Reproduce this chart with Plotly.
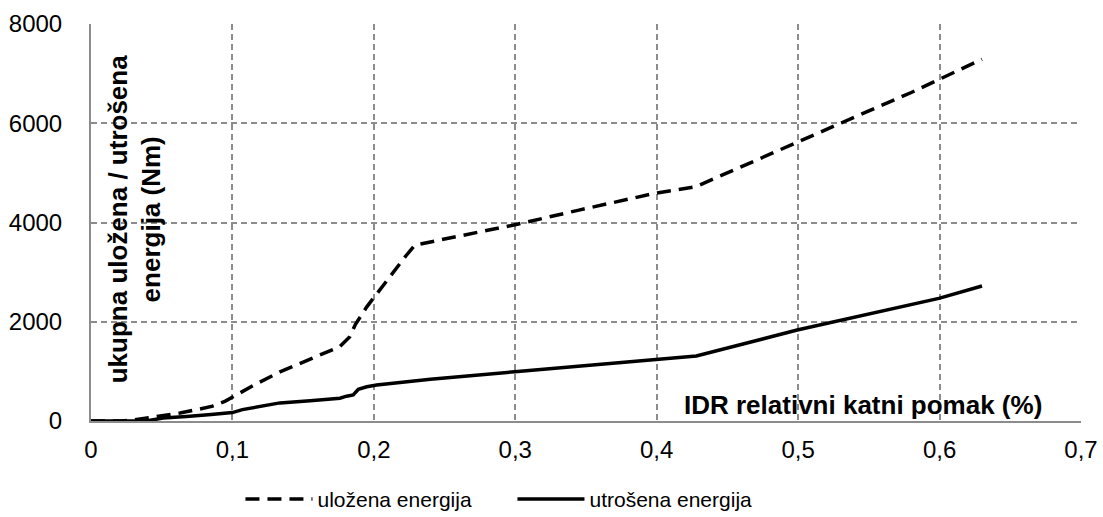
import plotly.graph_objects as go

# IDR (%) and energies (Nm)
x_ulozena = [0, 0.022, 0.03, 0.04, 0.05, 0.063, 0.075, 0.086, 0.095, 0.103, 0.115, 0.1336,
             0.155, 0.176, 0.183, 0.187, 0.195, 0.205, 0.223, 0.229, 0.26, 0.299, 0.345,
             0.399, 0.4275, 0.486, 0.53, 0.58, 0.63]
y_ulozena = [0, 0, 20, 60, 100, 160, 230, 300, 400, 530, 720, 990,
             1240, 1500, 1700, 1950, 2300, 2680, 3340, 3545, 3720, 3950, 4250,
             4590, 4720, 5460, 6000, 6620, 7290]

x_utrosena = [0, 0.022, 0.039, 0.051, 0.06, 0.0676, 0.085, 0.1, 0.107, 0.1265, 0.1336,
              0.155, 0.176, 0.1807, 0.1854, 0.189, 0.195, 0.202, 0.24, 0.2996, 0.3456,
              0.3998, 0.428, 0.4993, 0.5995, 0.63]
y_utrosena = [0, 0, 0, 60, 70, 90, 130, 170, 230, 340, 365,
              410, 460, 500, 524, 640, 690, 725, 840, 993, 1108,
              1229, 1309, 1833, 2471, 2720]

x_tickvals = [0, 0.1, 0.2, 0.3, 0.4, 0.5, 0.6, 0.7]
x_ticktext = ["0", "0,1", "0,2", "0,3", "0,4", "0,5", "0,6", "0,7"]
y_tickvals = [0, 2000, 4000, 6000, 8000]
y_ticktext = ["0", "2000", "4000", "6000", "8000"]

FONT = "Liberation Sans, Arial, sans-serif"
GRID = "#8c8c8c"

fig = go.Figure()
fig.add_trace(go.Scatter(x=x_ulozena, y=y_ulozena, mode="lines", name="uložena energija",
                         line=dict(color="black", width=3.5, dash="14px,8px")))
fig.add_trace(go.Scatter(x=x_utrosena, y=y_utrosena, mode="lines", name="utrošena energija",
                         line=dict(color="black", width=3.5)))

fig.update_layout(
    width=1103, height=517,
    margin=dict(l=91, r=22, t=24, b=96),
    paper_bgcolor="white", plot_bgcolor="white",
    font=dict(family=FONT, color="black", size=24),
    showlegend=True,
    legend=dict(orientation="h", xref="container", yref="container",
                x=0.218, y=0.034, xanchor="left", yanchor="middle",
                font=dict(size=21, family=FONT), itemwidth=67,
                entrywidth=190, entrywidthmode="pixels",
                bgcolor="rgba(0,0,0,0)"),
    xaxis=dict(range=[0, 0.7], tickvals=x_tickvals, ticktext=x_ticktext,
               showgrid=True, gridcolor=GRID, gridwidth=1.5, griddash="6px,4px",
               showline=True, linecolor=GRID, linewidth=2, zeroline=False,
               ticks="", ticklabelstandoff=6, tickfont=dict(size=24), automargin=False),
    yaxis=dict(range=[0, 8000], tickvals=y_tickvals, ticktext=y_ticktext,
               showgrid=True, gridcolor=GRID, gridwidth=1.5, griddash="6px,4px",
               showline=True, linecolor=GRID, linewidth=2, zeroline=False,
               ticks="", ticklabelstandoff=22, tickfont=dict(size=24), automargin=False),
    annotations=[
        dict(text="<b>ukupna uložena / utrošena<br>energija (Nm)</b>", textangle=-90,
             xref="paper", yref="paper", x=0.0444, y=0.508, xanchor="center", yanchor="middle",
             showarrow=False, font=dict(size=26, family=FONT)),
        dict(text="<b>IDR relativni katni pomak (%)</b>",
             xref="paper", yref="paper", x=0.78, y=0, xanchor="center", yanchor="bottom",
             yshift=-1, showarrow=False, font=dict(size=26, family=FONT)),
    ],
)

fig.write_html("out.html", config={"displayModeBar": False},
               post_script="document.body.style.margin='0';")
